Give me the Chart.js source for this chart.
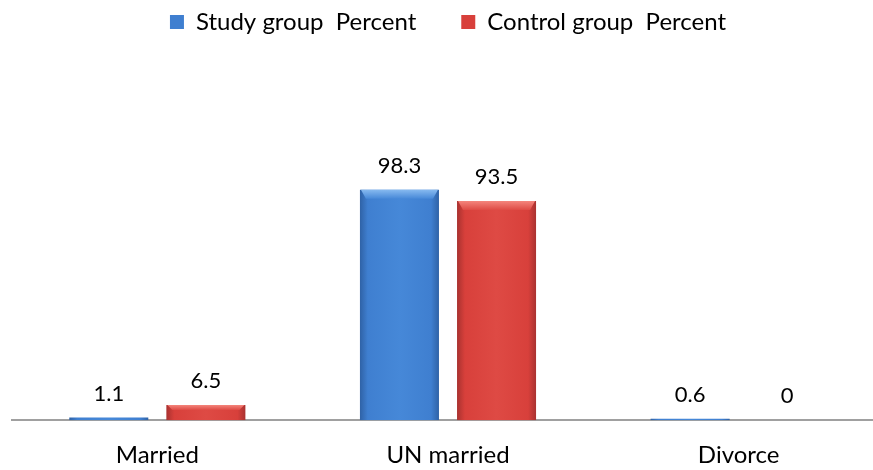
<!DOCTYPE html>
<html>
<head>
<meta charset="utf-8">
<script src="https://cdn.jsdelivr.net/npm/chart.js@4/dist/chart.umd.min.js"></script>
<style>
  html, body { margin: 0; padding: 0; background: #ffffff; overflow: hidden; }
  #wrap { width: 873px; height: 470px; overflow: hidden; }
  canvas { display: block; }
</style>
</head>
<body>
<div id="wrap"><canvas id="c" width="884" height="470"></canvas></div>
<script>
const categories = ["Married", "UN married", "Divorce"];
const studyGroup = [1.1, 98.3, 0.6];
const controlGroup = [6.5, 93.5, 0];
const seriesNames = ["Study group  Percent", "Control group  Percent"];

const FONT = "Lato, 'Open Sans', sans-serif";

const palette = [
  { main: "#3f7fd0", mid: "#4688d8", dark: "#2f62a6", light: "#86b9ef" },
  { main: "#d8403b", mid: "#de4a44", dark: "#a93230", light: "#f4857c" }
];

const bevelPlugin = {
  id: "bevel",
  beforeDatasetsDraw(chart) {
    const ctx = chart.ctx;
    chart.data.datasets.forEach((ds, di) => {
      const meta = chart.getDatasetMeta(di);
      const p = palette[di];
      meta.data.forEach(el => {
        const w = el.width;
        const x0 = el.x - w / 2;
        const g = ctx.createLinearGradient(x0, 0, x0 + w, 0);
        g.addColorStop(0, p.dark);
        g.addColorStop(0.1, p.main);
        g.addColorStop(0.5, p.mid);
        g.addColorStop(0.9, p.main);
        g.addColorStop(1, p.dark);
        el.options = Object.assign({}, el.options, { backgroundColor: g });
      });
    });
  },
  afterDatasetsDraw(chart) {
    const ctx = chart.ctx;
    chart.data.datasets.forEach((ds, di) => {
      const meta = chart.getDatasetMeta(di);
      const p = palette[di];
      meta.data.forEach(el => {
        const h = el.base - el.y;
        if (h < 8) return;
        const w = el.width;
        const x0 = el.x - w / 2;
        const bev = Math.min(9, h / 3);
        ctx.save();
        const g = ctx.createLinearGradient(0, el.y, 0, el.y + bev);
        g.addColorStop(0, p.light);
        g.addColorStop(1, p.mid);
        ctx.fillStyle = g;
        ctx.beginPath();
        ctx.moveTo(x0 + 1, el.y);
        ctx.lineTo(x0 + w - 1, el.y);
        ctx.lineTo(x0 + w - 6, el.y + bev);
        ctx.lineTo(x0 + 6, el.y + bev);
        ctx.closePath();
        ctx.fill();
        ctx.restore();
      });
    });
  }
};

const valueLabels = {
  id: "valueLabels",
  afterDatasetsDraw(chart) {
    const ctx = chart.ctx;
    ctx.save();
    ctx.font = "22px " + FONT;
    ctx.fillStyle = "#000000";
    ctx.textAlign = "center";
    ctx.textBaseline = "middle";
    chart.data.datasets.forEach((ds, di) => {
      const meta = chart.getDatasetMeta(di);
      meta.data.forEach((el, i) => {
        ctx.fillText(String(ds.data[i]), el.x, el.y - 24);
      });
    });
    ctx.restore();
  }
};

new Chart(document.getElementById("c"), {
  type: "bar",
  data: {
    labels: categories,
    datasets: [
      { label: seriesNames[0], data: studyGroup, backgroundColor: palette[0].main,
        borderWidth: 0, categoryPercentage: 0.668, barPercentage: 0.814 },
      { label: seriesNames[1], data: controlGroup, backgroundColor: palette[1].main,
        borderWidth: 0, categoryPercentage: 0.668, barPercentage: 0.814 }
    ]
  },
  options: {
    responsive: false,
    animation: false,
    layout: { padding: { left: 12, right: 0, top: -35, bottom: -21 } },
    plugins: {
      legend: {
        display: true,
        position: "top",
        labels: {
          font: { family: FONT, size: 24, lineHeight: 1.2 },
          color: "#000000",
          boxWidth: 14,
          boxHeight: 14,
          padding: 45
        }
      },
      title: {
        display: true,
        text: " ",
        weight: 500,
        font: { size: 1, lineHeight: 1 },
        padding: { top: 0, bottom: 94 }
      },
      tooltip: { enabled: false }
    },
    scales: {
      x: {
        grid: { display: false, drawTicks: false },
        border: { display: true, color: "#a0a0a0", width: 2 },
        ticks: {
          font: { family: FONT, size: 24, lineHeight: 1.2 },
          color: "#000000",
          padding: 21
        }
      },
      y: {
        display: false,
        min: 0,
        max: 120
      }
    }
  },
  plugins: [bevelPlugin, valueLabels]
});
</script>
</body>
</html>
